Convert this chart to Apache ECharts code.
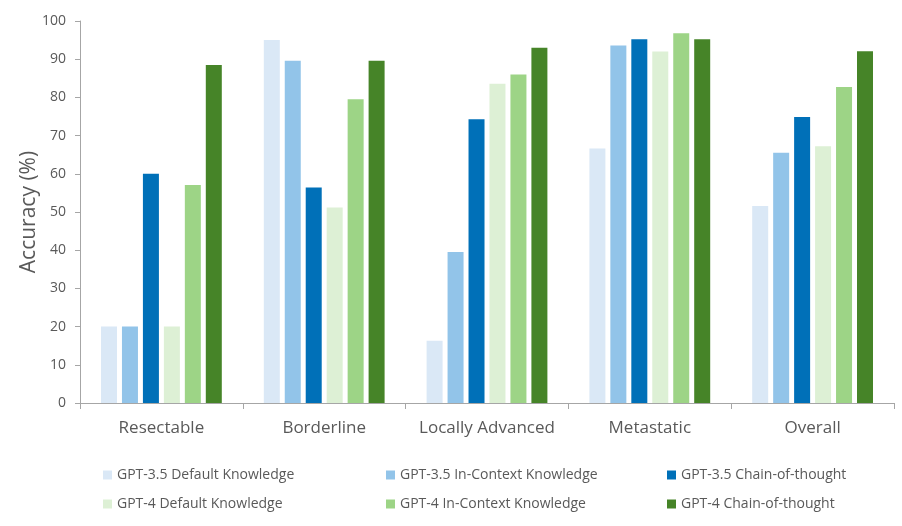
<!DOCTYPE html>
<html lang="en">
<head>
    <meta charset="UTF-8">
    <title>Accuracy by stage</title>
    <style>
        html, body { margin: 0; padding: 0; background: #fff; }
    </style>
</head>
<body>
<div id="chart-box" style="height:526px;width:902px"></div>
<script src="https://cdn.jsdelivr.net/npm/echarts@6/dist/echarts.min.js"></script>
<script>
// data
var categories = ['Resectable', 'Borderline', 'Locally Advanced', 'Metastatic', 'Overall'];
var seriesNames = [
    'GPT-3.5 Default Knowledge', 'GPT-3.5 In-Context Knowledge', 'GPT-3.5 Chain-of-thought',
    'GPT-4 Default Knowledge', 'GPT-4 In-Context Knowledge', 'GPT-4 Chain-of-thought'
];
var gpt35Default = [20, 95, 16.3, 66.6, 51.6];
var gpt35Context = [20, 89.6, 39.5, 93.6, 65.5];
var gpt35Cot     = [60, 56.4, 74.3, 95.2, 74.9];
var gpt4Default  = [20, 51.2, 83.6, 92, 67.2];
var gpt4Context  = [57.1, 79.5, 86, 96.8, 82.7];
var gpt4Cot      = [88.5, 89.6, 93, 95.2, 92.1];
var yTicks = [0, 10, 20, 30, 40, 50, 60, 70, 80, 90, 100];

var seriesValues = [gpt35Default, gpt35Context, gpt35Cot, gpt4Default, gpt4Context, gpt4Cot];
var colors = ['#DAE8F6', '#92C4E9', '#0070B8', '#DDF0D5', '#9DD486', '#468428'];

var fontFamily = '"Open Sans", "Noto Sans", sans-serif';
var textColor = '#595959';
var axisColor = '#A6A6A6';

// one legend per item so the columns line up like the original
var legendSpots = [[103, 468], [386, 468], [667, 468], [103, 497], [386, 497], [667, 497]];
var legends = seriesNames.map(function (name, i) {
    return {
        data: [name],
        left: legendSpots[i][0],
        top: legendSpots[i][1],
        icon: 'rect',
        itemWidth: 9,
        itemHeight: 9,
        itemGap: 4,
        padding: 0,
        selectedMode: false,
        textStyle: { color: textColor, fontSize: 14, fontFamily: fontFamily }
    };
});

var series = seriesNames.map(function (name, i) {
    return {
        name: name,
        type: 'bar',
        data: seriesValues[i],
        barWidth: 16,
        barGap: '31%',
        itemStyle: { color: colors[i] }
    };
});

var option = {
    animation: false,
    color: colors,
    legend: legends,
    grid: { left: 80, right: 8, top: 21, bottom: 123, containLabel: false },
    xAxis: {
        type: 'category',
        data: categories,
        axisLine: { lineStyle: { color: axisColor, width: 1 } },
        axisTick: { show: true, length: 6, lineStyle: { color: axisColor } },
        axisLabel: { color: textColor, fontSize: 17, fontFamily: fontFamily, margin: 17, interval: 0 }
    },
    yAxis: {
        type: 'value',
        min: yTicks[0],
        max: yTicks[yTicks.length - 1],
        interval: 10,
        name: 'Accuracy (%)',
        nameLocation: 'middle',
        nameGap: 40,
        nameMoveOverlap: false,
        nameTextStyle: { color: textColor, fontSize: 21, fontFamily: fontFamily },
        axisLine: { show: true, lineStyle: { color: axisColor, width: 1 } },
        axisTick: { show: true, length: 5, lineStyle: { color: axisColor } },
        splitLine: { show: false },
        axisLabel: { color: textColor, fontSize: 14, fontFamily: fontFamily, margin: 14 }
    },
    series: series
};

var chart = echarts.init(document.getElementById('chart-box'));
chart.setOption(option);
</script>
</body>
</html>
